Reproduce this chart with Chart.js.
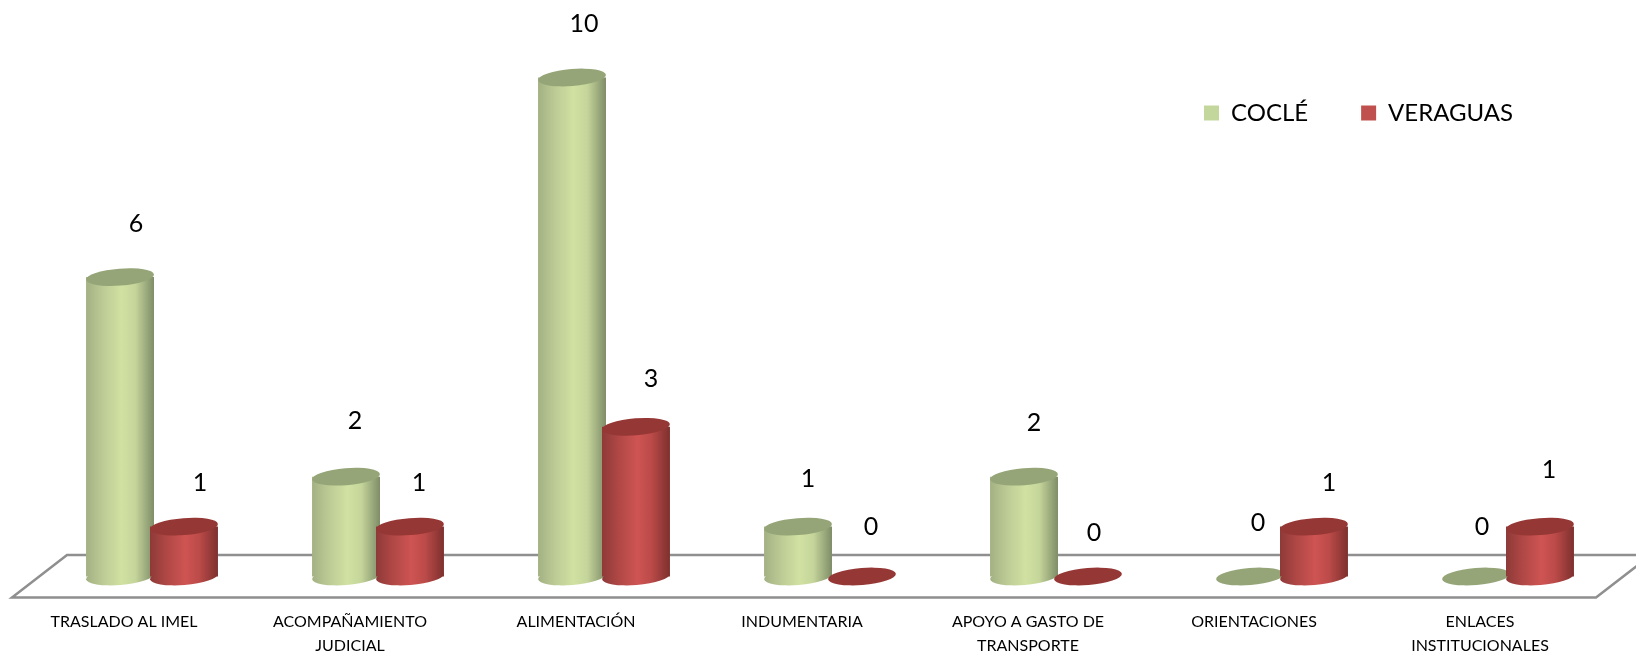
<!DOCTYPE html>
<html lang="es">
<head>
    <meta charset="UTF-8">
    <script src="https://cdn.jsdelivr.net/npm/chart.js"></script>
    <style>
        html, body { margin: 0; padding: 0; background: #fff; }
        canvas { display: block; }
    </style>
</head>
<body>
    <canvas id="myChart" width="1636" height="654"></canvas>
    <script>
        var categories = [
            'TRASLADO AL IMEL',
            ['ACOMPAÑAMIENTO', 'JUDICIAL'],
            'ALIMENTACIÓN',
            'INDUMENTARIA',
            ['APOYO A GASTO DE', 'TRANSPORTE'],
            'ORIENTACIONES',
            ['ENLACES', 'INSTITUCIONALES']
        ];
        var cocle = [6, 2, 10, 1, 2, 0, 0];
        var veraguas = [1, 1, 3, 0, 0, 1, 1];

        // the value labels sit at hand placed spots in the original
        var cocleLabelShift = [[16, -53], [9, -56], [12, -54], [10, -48], [10, -54], [8, -54], [6, -50]];
        var veraguasLabelShift = [[16, -44], [9, -44], [15, -48], [9, -50], [6, -44], [15, -44], [9, -57]];
        var labelShift = [cocleLabelShift, veraguasLabelShift];

        var looks = [
            { flat: '#C3D69B', top: '#95A578', stops: ['#A3B183', '#BCCB95', '#D0E1A2', '#C6D69B', '#7F8D68'] },
            { flat: '#C0504D', top: '#953735', stops: ['#8E3A38', '#B04846', '#CE5452', '#BC4B49', '#7D302E'] }
        ];
        var stopAt = [0, 0.25, 0.52, 0.72, 1];
        var halfBar = 34, ryTop = 8.5, tilt = -0.08;
        var fontName = 'Lato, "Noto Sans", sans-serif';

        // horizontal shading that makes the bar look round
        var barFill = function (context) {
            var look = looks[context.datasetIndex];
            if (context.dataIndex === undefined) return look.flat;
            var chart = context.chart;
            var x = chart.scales.x.getPixelForValue(context.dataIndex) + (context.datasetIndex === 0 ? -32 : 32);
            if (!isFinite(x)) return look.flat;
            var g = chart.ctx.createLinearGradient(x - halfBar, 0, x + halfBar, 0);
            look.stops.forEach(function (c, i) { g.addColorStop(stopAt[i], c); });
            return g;
        };

        var ellipse = function (ctx, x, y, fill) {
            ctx.fillStyle = fill;
            ctx.beginPath();
            ctx.ellipse(x, y, halfBar, ryTop, tilt, 0, Math.PI * 2);
            ctx.fill();
        };

        var floorPlugin = {
            id: 'floor',
            beforeDatasetsDraw: function (chart) {
                var ctx = chart.ctx, a = chart.chartArea;
                ctx.save();
                ctx.strokeStyle = '#8F8F8F';
                ctx.lineWidth = 2.5;
                ctx.beginPath();
                ctx.moveTo(a.left + 28, a.bottom - 21.5);
                ctx.lineTo(a.right + 30, a.bottom - 21.5);
                ctx.lineTo(a.right - 25, a.bottom + 21);
                ctx.lineTo(a.left - 27, a.bottom + 21);
                ctx.closePath();
                ctx.stroke();
                ctx.restore();
            }
        };

        // draws the cylinders left to right so the red one overlaps the green one
        var cylinderPlugin = {
            id: 'cylinder',
            afterLayout: function (chart) {
                // the legend floats over the plot, it takes no room of its own
                var l = chart.legend;
                l.left = 1151; l.top = 48;
                l.right = 1636; l.bottom = 160;
            },
            beforeDatasetDraw: function () {
                return false;
            },
            afterDatasetsDraw: function (chart) {
                var ctx = chart.ctx;
                var base = chart.scales.y.getPixelForValue(0);
                ctx.save();
                chart.data.datasets.forEach(function (ds, d) {
                    var meta = chart.getDatasetMeta(d);
                    meta.data.forEach(function (bar, i) {
                        if (ds.data[i] > 0) ellipse(ctx, bar.x, base, bar.options.backgroundColor);
                    });
                    meta.controller.draw();
                    meta.data.forEach(function (bar) {
                        ellipse(ctx, bar.x, bar.y, looks[d].top);
                    });
                });
                ctx.fillStyle = '#000';
                ctx.font = '25px ' + fontName;
                ctx.textAlign = 'center';
                ctx.textBaseline = 'middle';
                chart.data.datasets.forEach(function (ds, d) {
                    chart.getDatasetMeta(d).data.forEach(function (bar, i) {
                        ctx.fillText(ds.data[i], bar.x + labelShift[d][i][0], bar.y + labelShift[d][i][1]);
                    });
                });
                ctx.restore();
            }
        };

        new Chart(document.getElementById('myChart').getContext('2d'), {
            type: 'bar',
            data: {
                labels: categories,
                datasets: [
                    { label: 'COCLÉ', data: cocle, backgroundColor: barFill, borderWidth: 0 },
                    { label: 'VERAGUAS', data: veraguas, backgroundColor: barFill, borderWidth: 0 }
                ]
            },
            options: {
                responsive: false,
                animation: false,
                categoryPercentage: 0.566,
                barPercentage: 1.0625,
                layout: { padding: { left: 39, right: 15, top: 76.5, bottom: 0 } },
                plugins: {
                    tooltip: { enabled: false },
                    legend: {
                        position: 'top',
                        align: 'start',
                        maxHeight: 1,
                        labels: {
                            color: '#000',
                            boxWidth: 15,
                            boxHeight: 15,
                            padding: 53,
                            font: { family: fontName, size: 24 },
                            generateLabels: function (chart) {
                                return Chart.defaults.plugins.legend.labels.generateLabels(chart).map(function (item, i) {
                                    item.fillStyle = looks[i].flat;
                                    item.strokeStyle = looks[i].flat;
                                    item.lineWidth = 0;
                                    return item;
                                });
                            }
                        }
                    }
                },
                scales: {
                    x: {
                        afterFit: function (scale) { scale.height = 77.5; },
                        grid: { display: false },
                        border: { display: false },
                        ticks: {
                            autoSkip: false,
                            maxRotation: 0,
                            padding: 25,
                            labelOffset: -28,
                            color: '#000',
                            font: { family: fontName, size: 16, lineHeight: 1.5 }
                        }
                    },
                    y: {
                        display: false,
                        min: 0,
                        max: 10
                    }
                }
            },
            plugins: [floorPlugin, cylinderPlugin]
        });
    </script>
</body>
</html>
